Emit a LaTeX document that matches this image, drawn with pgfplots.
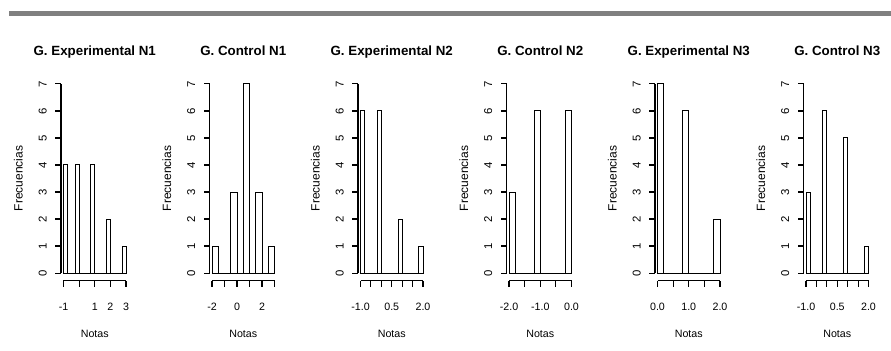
\documentclass[border=0pt]{standalone}
\usepackage{fontspec}
\setmainfont{Liberation Sans}
\usepackage{pgfplots}
\pgfplotsset{compat=1.18}
\definecolor{bandgray}{RGB}{128,128,128}
\pgfplotsset{
  rhist/.style={
    scale only axis, width=50.625pt, height=153.15pt,
    ymin=-0.28, ymax=7.28,
    axis line style={draw=none},
    xtick pos=left, ytick pos=left,
    tick align=outside, major tick length=4.5pt,
    xtick style={draw=black, line width=0.8pt},
    ytick style={draw=none},
    ytick={0,1,2,3,4,5,6,7}, yticklabels={0,1,2,3,4,5,6,7},
    xticklabel style={font=\fontsize{8}{9}\selectfont, anchor=center, yshift=-15.25pt},
    yticklabel style={font=\fontsize{8.5}{9}\selectfont, rotate=90, anchor=south, inner sep=0pt},
    yticklabel shift=6pt,
    every axis title/.style={at={(axis description cs:0.5,1)}, anchor=base, yshift=16pt, font=\bfseries\fontsize{10}{11}\selectfont},
    every axis x label/.style={at={(axis description cs:0.5,0)}, anchor=center, yshift=-40pt, font=\fontsize{8}{9}\selectfont},
    every axis y label/.style={at={(axis description cs:0,0.5)}, xshift=-32pt, rotate=90, anchor=center, font=\fontsize{9}{10}\selectfont},
    xlabel={Notas}, ylabel={Frecuencias},
    clip=false,
  },
  hbar/.style={ybar interval, fill=white, draw=black, line width=0.75pt},
}
% R-style axis lines: x axis over the tick range, y axis from 0 to 7 with ticks
\newcommand{\raxes}[3]{%
  \draw[line width=0.8pt] (axis cs:#2,-0.28) -- (axis cs:#3,-0.28);
  \draw[line width=0.8pt] (axis cs:#1,0) -- (axis cs:#1,7);
  \pgfplotsinvokeforeach{0,...,7}{\draw[line width=0.8pt] (axis cs:#1,##1) -- ++(-4.5pt,0pt);}
}
\begin{document}
\begin{tikzpicture}
\useasboundingbox (-45.75pt,-52.05pt) rectangle (622.5pt,210.45pt);
\fill[bandgray] (-39pt,198.45pt) rectangle (622.5pt,202.2pt);
% Panel 1
\begin{axis}[rhist, at={(0pt,0pt)}, title={G. Experimental N1},
  xmin=-1.16, xmax=3.16, xtick={-1,0,1,2,3}, xticklabels={-1,,1,2,3}]
\addplot[hbar] table {
x y
-1 4
-0.75 0
-0.5 0
-0.25 4
0 0
0.25 0
0.5 0
0.75 4
1 0
1.25 0
1.5 0
1.75 2
2 0
2.25 0
2.5 0
2.75 1
3 0
};
\raxes{-1.16}{-1}{3}
\end{axis}
% Panel 2
\begin{axis}[rhist, at={(111.375pt,0pt)}, title={G. Control N1},
  xmin=-2.2, xmax=3.2, xtick={-2,-1,0,1,2,3}, xticklabels={-2,,0,,2,}]
\addplot[hbar] table {
x y
-2 1
-1.5 0
-1 0
-0.5 3
0 0
0.5 7
1 0
1.5 3
2 0
2.5 1
3 0
};
\raxes{-2.2}{-2}{3}
\end{axis}
% Panel 3
\begin{axis}[rhist, at={(222.75pt,0pt)}, title={G. Experimental N2},
  xmin=-1.12, xmax=2.12, xtick={-1,-0.5,0,0.5,1,1.5,2}, xticklabels={-1.0,,,0.5,,,2.0}]
\addplot[hbar] table {
x y
-1 6
-0.8 0
-0.6 0
-0.4 0
-0.2 6
0 0
0.2 0
0.4 0
0.6 0
0.8 2
1 0
1.2 0
1.4 0
1.6 0
1.8 1
2 0
};
\raxes{-1.12}{-1}{2}
\end{axis}
% Panel 4
\begin{axis}[rhist, at={(334.125pt,0pt)}, title={G. Control N2},
  xmin=-2.08, xmax=0.08, xtick={-2,-1.5,-1,-0.5,0}, xticklabels={-2.0,,-1.0,,0.0}]
\addplot[hbar] table {
x y
-2 3
-1.8 0
-1.6 0
-1.4 0
-1.2 6
-1 0
-0.8 0
-0.6 0
-0.4 0
-0.2 6
0 0
};
\raxes{-2.08}{-2}{0}
\end{axis}
% Panel 5
\begin{axis}[rhist, at={(445.5pt,0pt)}, title={G. Experimental N3},
  xmin=-0.08, xmax=2.08, xtick={0,0.5,1,1.5,2}, xticklabels={0.0,,1.0,,2.0}]
\addplot[hbar] table {
x y
0 7
0.2 0
0.4 0
0.6 0
0.8 6
1 0
1.2 0
1.4 0
1.6 0
1.8 2
2 0
};
\raxes{-0.08}{0}{2}
\end{axis}
% Panel 6
\begin{axis}[rhist, at={(556.875pt,0pt)}, title={G. Control N3},
  xmin=-1.12, xmax=2.12, xtick={-1,-0.5,0,0.5,1,1.5,2}, xticklabels={-1.0,,,0.5,,,2.0}]
\addplot[hbar] table {
x y
-1 3
-0.8 0
-0.6 0
-0.4 0
-0.2 6
0 0
0.2 0
0.4 0
0.6 0
0.8 5
1 0
1.2 0
1.4 0
1.6 0
1.8 1
2 0
};
\raxes{-1.12}{-1}{2}
\end{axis}
\end{tikzpicture}
\end{document}
